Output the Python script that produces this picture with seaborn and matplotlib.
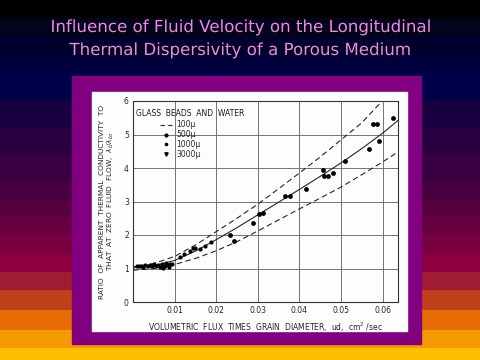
import numpy as np
import pandas as pd
import matplotlib
matplotlib.use("Agg")
import matplotlib.pyplot as plt
import matplotlib.patheffects as pe
from matplotlib.colors import ListedColormap
from matplotlib.lines import Line2D
import seaborn as sns

# Datos
titulo = ["Influence of Fluid Velocity on the Longitudinal",
          "Thermal Dispersivity of a Porous Medium"]

# curva central (solida)
x_curva = [0, 0.005, 0.01, 0.015, 0.02, 0.025, 0.03, 0.035, 0.04, 0.045, 0.05, 0.055, 0.06, 0.0637]
y_curva = [1.02, 1.08, 1.24, 1.52, 1.86, 2.22, 2.60, 2.98, 3.36, 3.75, 4.15, 4.58, 5.04, 5.42]

# limite superior (100 micras, discontinua)
x_sup = [0, 0.005, 0.01, 0.015, 0.02, 0.025, 0.03, 0.035, 0.04, 0.045, 0.05, 0.055, 0.0595]
y_sup = [1.05, 1.15, 1.36, 1.70, 2.10, 2.50, 2.92, 3.38, 3.85, 4.33, 4.84, 5.35, 5.95]

# limite inferior (discontinua)
x_inf = [0, 0.005, 0.01, 0.015, 0.02, 0.025, 0.03, 0.035, 0.04, 0.045, 0.05, 0.055, 0.06, 0.0637]
y_inf = [0.95, 1.00, 1.12, 1.30, 1.53, 1.80, 2.12, 2.45, 2.78, 3.10, 3.43, 3.80, 4.18, 4.48]

# puntos experimentales
x_500 = [0.0010, 0.0015, 0.0020, 0.0025, 0.0030, 0.0035, 0.0040, 0.0045, 0.0050, 0.0055,
         0.0060, 0.0065, 0.0070, 0.0073, 0.0077, 0.0080, 0.0083, 0.0087, 0.0090, 0.0093]
y_500 = [1.08, 1.06, 1.07, 1.05, 1.09, 1.06, 1.10, 1.07, 1.12, 1.08,
         1.10, 1.05, 1.12, 1.02, 1.08, 1.15, 1.10, 1.05, 1.14, 1.12]
x_1000 = [0.0112, 0.0122, 0.0136, 0.0144, 0.0148, 0.0160, 0.0172, 0.0188]
y_1000 = [1.35, 1.43, 1.53, 1.60, 1.62, 1.58, 1.68, 1.80]
x_3000 = [0.0234, 0.0242, 0.0288, 0.0304, 0.0312, 0.0366, 0.0378, 0.0416, 0.0456, 0.0458,
          0.0468, 0.0480, 0.0510, 0.0568, 0.0576, 0.0586, 0.0592, 0.0624]
y_3000 = [2.00, 1.81, 2.37, 2.62, 2.65, 3.15, 3.15, 3.36, 3.93, 3.77,
          3.77, 3.84, 4.20, 4.58, 5.31, 5.31, 4.81, 5.48]

etiquetas = ["100\u03bc", "500\u03bc", "1000\u03bc", "3000\u03bc"]
xticks = [0.01, 0.02, 0.03, 0.04, 0.05, 0.06]
yticks = [0, 1, 2, 3, 4, 5, 6]

sns.set_theme(style="white")
plt.rcParams['font.family'] = ['DejaVu Sans']

fig = plt.figure(figsize=(4.8, 3.6), dpi=100)

# fondo degradado por bandas
bandas = ["#010101", "#03031a", "#00002c", "#00003c", "#000048", "#000048",
          "#180040", "#280040", "#380040", "#470040", "#570040", "#670040",
          "#780040", "#8c0040", "#a01c30", "#c0401a", "#e86c06", "#f59a00", "#ffbf00"]
limites = [0, 18, 36, 54, 72, 86, 100, 127, 154, 181, 200, 217, 235, 253, 272, 290, 310, 330, 348, 360]
fila = np.zeros((360, 1))
for i in range(len(bandas)):
    fila[limites[i]:limites[i + 1], 0] = i
ax_bg = fig.add_axes([0, 0, 1, 1])
ax_bg.imshow(fila, aspect='auto', cmap=ListedColormap(bandas), extent=[0, 480, 360, 0],
             interpolation='nearest', vmin=0, vmax=len(bandas) - 1)
ax_bg.set_xlim(0, 480)
ax_bg.set_ylim(360, 0)
ax_bg.axis('off')

# marco morado y panel blanco
ax_bg.add_patch(plt.Rectangle((72, 76), 349, 268, color="#800080", zorder=2))
ax_bg.add_patch(plt.Rectangle((92, 92), 315, 239, color="#fdfdfd", zorder=3))

# titulo con sombra
for j, linea in enumerate(titulo):
    ax_bg.text(240, 27 + j * 23, linea, ha='center', va='center', fontsize=12,
               color="#ee88ee", zorder=4,
               path_effects=[pe.withSimplePatchShadow(offset=(1, -1), shadow_rgbFace='black', alpha=0.9)])

# grafico cientifico
ax = fig.add_axes([133 / 480, 1 - 302 / 360, 265 / 480, 201 / 360])
ax.set_facecolor("#fdfdfd")
for xv in xticks:
    ax.axvline(xv, color="0.45", lw=0.7, zorder=1)
for yv in yticks[1:-1]:
    ax.axhline(yv, color="0.45", lw=0.7, zorder=1)

sns.lineplot(x=x_curva, y=y_curva, ax=ax, color="0.15", lw=0.8, zorder=3)
sns.lineplot(x=x_sup, y=y_sup, ax=ax, color="0.15", lw=0.8, zorder=3, linestyle=(0, (5, 3)))
sns.lineplot(x=x_inf, y=y_inf, ax=ax, color="0.15", lw=0.8, zorder=3, linestyle=(0, (5, 3)))

sns.scatterplot(x=x_500, y=y_500, ax=ax, color="black", s=9, linewidth=0, zorder=4)
sns.scatterplot(x=x_1000, y=y_1000, ax=ax, color="black", s=9, linewidth=0, zorder=4)
sns.scatterplot(x=x_3000, y=y_3000, ax=ax, color="black", s=12, linewidth=0, zorder=4)

ax.set_xlim(0, 0.0637)
ax.set_ylim(0, 6)
ax.set_xticks(xticks)
ax.set_xticklabels([f"{v:.2f}" for v in xticks])
ax.set_yticks(yticks)
ax.tick_params(labelsize=5.5, colors="0.15", length=0, pad=3)
for s in ax.spines.values():
    s.set_color("0.2")
    s.set_linewidth(0.8)

ax.set_xlabel("VOLUMETRIC  FLUX  TIMES  GRAIN  DIAMETER,  ud,  cm$^2$ /sec",
              fontsize=5.5, color="0.15", labelpad=4)
ax.set_ylabel("RATIO  OF  APPARENT  THERMAL  CONDUCTIVITY  TO\n"
              "THAT  AT  ZERO  FLUID  FLOW,  $\\lambda_\\ell/\\lambda_{\\ell o}$",
              fontsize=5.3, color="0.15", labelpad=6, linespacing=1.1)

# leyenda
ax.text(0.012, 0.96, "GLASS  BEADS  AND  WATER", transform=ax.transAxes,
        fontsize=5.5, color="0.1", ha='left', va='top')
manejadores = [Line2D([], [], color="0.15", lw=0.8, linestyle=(0, (4, 3))),
               Line2D([], [], color="black", marker='o', ms=2, lw=0),
               Line2D([], [], color="black", marker='o', ms=1.6, lw=0),
               Line2D([], [], color="black", marker='v', ms=2.4, lw=0)]
ax.legend(manejadores, etiquetas, loc='upper left', bbox_to_anchor=(0.08, 0.93),
          frameon=False, fontsize=5.5, handlelength=1.6, labelspacing=0.1,
          handletextpad=0.6, borderpad=0.2)

plt.savefig("out.png", dpi=100)
plt.close()
